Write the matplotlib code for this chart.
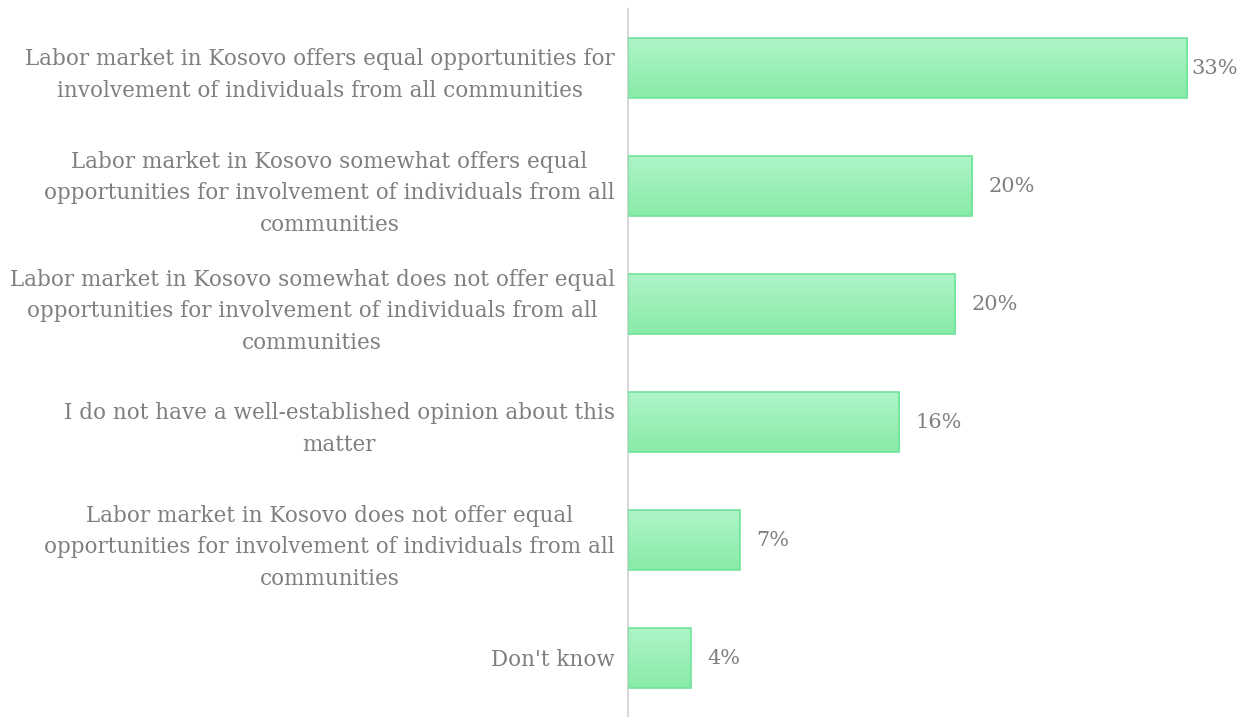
import numpy as np
import matplotlib.pyplot as plt
from matplotlib.colors import LinearSegmentedColormap

categories = [
    "Labor market in Kosovo offers equal opportunities for\ninvolvement of individuals from all communities",
    "Labor market in Kosovo somewhat offers equal\nopportunities for involvement of individuals from all\ncommunities",
    "Labor market in Kosovo somewhat does not offer equal\nopportunities for involvement of individuals from all\ncommunities",
    "I do not have a well-established opinion about this\nmatter",
    "Labor market in Kosovo does not offer equal\nopportunities for involvement of individuals from all\ncommunities",
    "Don't know",
]
values = [33.0, 20.3, 19.3, 16.0, 6.6, 3.7]
labels = ["33%", "20%", "20%", "16%", "7%", "4%"]

plt.rcParams['font.family'] = ['DejaVu Serif']
text_color = '#7f7f7f'

fig = plt.figure(figsize=(12.45, 7.17), dpi=100)
ax = fig.add_axes([628 / 1245, 0, 617 / 1245, 708 / 717])

ypos = np.arange(len(values))
h = 0.505
cmap = LinearSegmentedColormap.from_list('g', ['#88eba8', '#aef4c8'])
grad = np.linspace(0, 1, 64).reshape(-1, 1)

for y, v, lab in zip(ypos, values, labels):
    ax.imshow(grad, cmap=cmap, extent=[0, v, y + h / 2, y - h / 2],
              aspect='auto', origin='lower', zorder=2)
    ax.barh(y, v, height=h, facecolor='none', edgecolor='#6fe49a', linewidth=1.2, zorder=3)
    # last label gets squeezed against the right edge
    off = 3 if v > 30 else 12
    ax.annotate(lab, (v, y), xytext=(off, 0), textcoords='offset points',
                va='center', ha='left', fontsize=15, color=text_color)

ax.set_xlim(0, 36.4)
ax.set_ylim(len(values) - 0.5, -0.5)
ax.set_yticks(ypos)
ax.set_yticklabels(categories, fontsize=15.5, color=text_color,
                   multialignment='center', linespacing=1.55)
ax.tick_params(axis='y', length=0, pad=9.5)
ax.set_xticks([])
for s in ['top', 'right', 'bottom']:
    ax.spines[s].set_visible(False)
ax.spines['left'].set_color('#d9d9d9')
ax.spines['left'].set_linewidth(1.5)

fig.savefig('out.png', dpi=100)
